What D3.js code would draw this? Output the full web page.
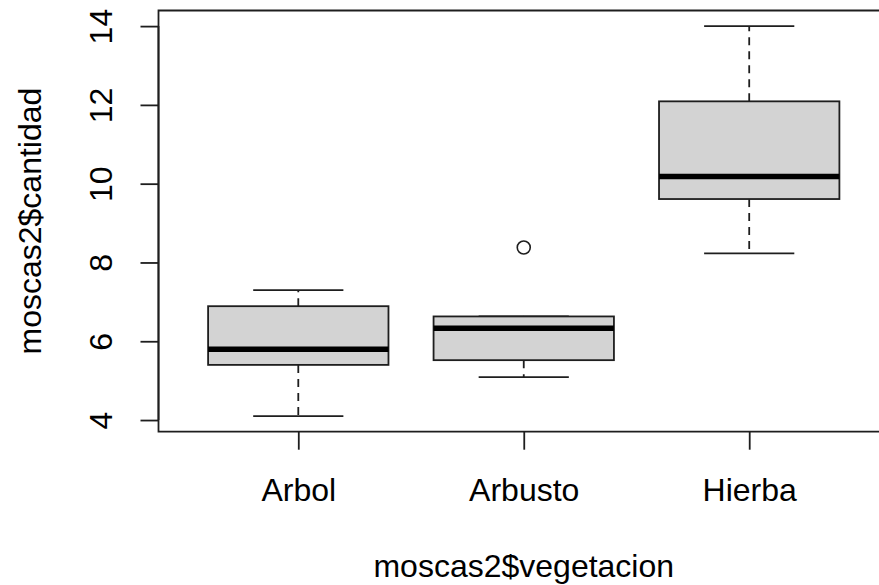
<!DOCTYPE html>
<html>
<head>
<meta charset="utf-8">
<script src="https://cdn.jsdelivr.net/npm/d3@7"></script>
<style>
  body { margin: 0; background: #fff; overflow: hidden; }
  text { font-family: "Liberation Sans", Arial, sans-serif; fill: #000; }
</style>
</head>
<body>
<div id="chart"></div>
<script>
// boxplot stats
var categories = ["Arbol", "Arbusto", "Hierba"];
var whiskerLow = [4.1, 5.09, 8.23];
var q1 = [5.4, 5.52, 9.61];
var medians = [5.8, 6.33, 10.18];
var q3 = [6.89, 6.63, 12.09];
var whiskerHigh = [7.3, 6.63, 14.0];
var outliers = [[], [8.38], []];
var yTicks = [4, 6, 8, 10, 12, 14];

var xTitle = "moscas2$vegetacion";
var yTitle = "moscas2$cantidad";

var dimensions = {
    width: 879,
    height: 585,
    plot: { left: 158.5, right: 889, top: 10.5, bottom: 431.7 }
}

var fontSize = 32;
var lineColor = "#1e1e1e";

var svg = d3.select("#chart")
    .append("svg")
    .attr("width", dimensions.width)
    .attr("height", dimensions.height)
    .style("display", "block")

var data = categories.map(function (c, i) {
    return {
        name: c, idx: i + 1,
        lo: whiskerLow[i], q1: q1[i], med: medians[i], q3: q3[i], hi: whiskerHigh[i],
        out: outliers[i]
    }
})

// R style extents: groups at 1..n, 4% padding
var x = d3.scaleLinear()
    .domain([0.38, 3.62])
    .range([dimensions.plot.left, dimensions.plot.right])

var y = d3.scaleLinear()
    .domain([3.704, 14.396])
    .range([dimensions.plot.bottom, dimensions.plot.top])

var boxHalf = (x(1.4) - x(1)) // 0.8 wide box
var capHalf = boxHalf / 2

// plot frame (right side runs past the picture edge)
var edge = dimensions.width + 2
svg.append("path")
    .attr("d", "M" + edge + "," + dimensions.plot.top +
        "H" + dimensions.plot.left + "V" + dimensions.plot.bottom + "H" + edge)
    .attr("fill", "none")
    .attr("stroke", lineColor)
    .attr("stroke-width", 1.8)

// Y axis
var yAxis = svg.append("g")
    .attr("transform", "translate(" + dimensions.plot.left + ",0)")
    .call(d3.axisLeft(y).tickValues(yTicks).tickSize(18).tickFormat(d3.format("d")))
yAxis.select(".domain").remove()
yAxis.selectAll("line").attr("stroke", lineColor).attr("stroke-width", 1.8)
yAxis.append("line")
    .attr("y1", y(yTicks[0])).attr("y2", y(yTicks[yTicks.length - 1]))
    .attr("stroke", lineColor).attr("stroke-width", 1.8)
yAxis.selectAll("text")
    .attr("x", null).attr("y", 0)
    .style("font-size", fontSize + "px")
    .style("font-family", "Liberation Sans, Arial, sans-serif")
    .attr("text-anchor", "middle")
    .attr("transform", "translate(-58,0) rotate(-90)")
    .attr("dy", "0.36em")

// X axis
var xAxis = svg.append("g")
    .attr("transform", "translate(0," + dimensions.plot.bottom + ")")
    .call(d3.axisBottom(x).tickValues(data.map(function (d) { return d.idx })).tickSize(18)
        .tickFormat(function (v) { return categories[v - 1] }))
xAxis.select(".domain").remove()
xAxis.selectAll("line").attr("stroke", lineColor).attr("stroke-width", 1.8)
xAxis.selectAll("text")
    .attr("y", 69).attr("dy", null)
    .style("font-size", fontSize + "px")
    .style("font-family", "Liberation Sans, Arial, sans-serif")

// axis titles
svg.append("text")
    .attr("x", (dimensions.plot.left + dimensions.plot.right) / 2)
    .attr("y", 577)
    .attr("text-anchor", "middle")
    .style("font-size", fontSize + "px")
    .text(xTitle)

svg.append("text")
    .attr("transform", "translate(41," + (dimensions.plot.top + dimensions.plot.bottom) / 2 + ") rotate(-90)")
    .attr("text-anchor", "middle")
    .style("font-size", fontSize + "px")
    .text(yTitle)

// boxes
var g = svg.append("g")
    .selectAll("g")
    .data(data)
    .enter()
    .append("g")

// dashed whiskers
g.append("line")
    .attr("x1", function (d) { return x(d.idx) }).attr("x2", function (d) { return x(d.idx) })
    .attr("y1", function (d) { return y(d.q3) }).attr("y2", function (d) { return y(d.hi) })
    .attr("stroke", lineColor).attr("stroke-width", 1.8).attr("stroke-dasharray", "8,6")
g.append("line")
    .attr("x1", function (d) { return x(d.idx) }).attr("x2", function (d) { return x(d.idx) })
    .attr("y1", function (d) { return y(d.q1) }).attr("y2", function (d) { return y(d.lo) })
    .attr("stroke", lineColor).attr("stroke-width", 1.8).attr("stroke-dasharray", "8,6")

// staples
g.selectAll(".cap")
    .data(function (d) { return [d.lo, d.hi].map(function (v) { return { idx: d.idx, v: v } }) })
    .enter().append("line")
    .attr("class", "cap")
    .attr("x1", function (d) { return x(d.idx) - capHalf }).attr("x2", function (d) { return x(d.idx) + capHalf })
    .attr("y1", function (d) { return y(d.v) }).attr("y2", function (d) { return y(d.v) })
    .attr("stroke", lineColor).attr("stroke-width", 1.8)

// box
g.append("rect")
    .attr("x", function (d) { return x(d.idx) - boxHalf })
    .attr("y", function (d) { return y(d.q3) })
    .attr("width", boxHalf * 2)
    .attr("height", function (d) { return y(d.q1) - y(d.q3) })
    .attr("fill", "#d3d3d3")
    .attr("stroke", lineColor).attr("stroke-width", 1.8)

// median
g.append("line")
    .attr("x1", function (d) { return x(d.idx) - boxHalf }).attr("x2", function (d) { return x(d.idx) + boxHalf })
    .attr("y1", function (d) { return y(d.med) }).attr("y2", function (d) { return y(d.med) })
    .attr("stroke", "#000").attr("stroke-width", 5.5)

// outliers
g.selectAll("circle")
    .data(function (d) { return d.out.map(function (v) { return { idx: d.idx, v: v } }) })
    .enter().append("circle")
    .attr("cx", function (d) { return x(d.idx) })
    .attr("cy", function (d) { return y(d.v) })
    .attr("r", 6.5)
    .attr("fill", "none")
    .attr("stroke", lineColor).attr("stroke-width", 1.6)
</script>
</body>
</html>
